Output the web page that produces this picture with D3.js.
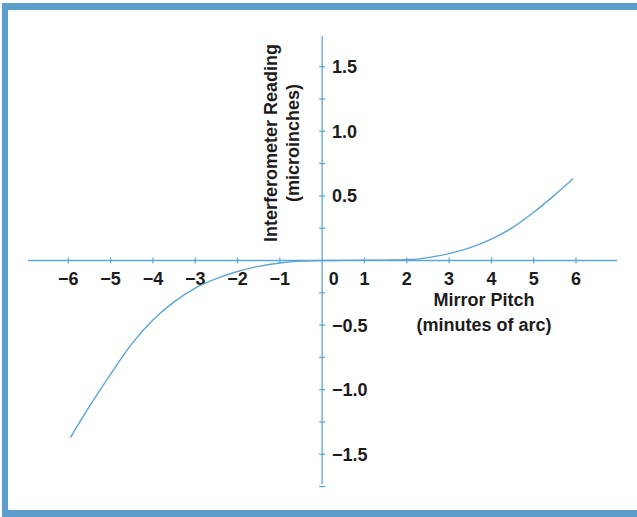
<!DOCTYPE html>
<html><head><meta charset="utf-8">
<script src="https://cdn.jsdelivr.net/npm/d3@7"></script>
<style>html,body{margin:0;padding:0;background:#fff;}svg{display:block;}</style>
</head><body>
<svg id="c" width="637" height="517"></svg>
<script>
// Data
const pitchValues   = [-5.95, -5.5, -5, -4.5, -4, -3.5, -3, -2.5, -2, -1.5, -1, -0.5, 0, 0.5, 1, 1.5, 2, 2.5, 3, 3.5, 4, 4.5, 5, 5.5, 5.93];
const readingValues = [-1.37, -1.13, -0.88, -0.645, -0.46, -0.32, -0.213, -0.14, -0.085, -0.045, -0.019, -0.005, 0, 0.001, 0.002, 0.003, 0.006, 0.022, 0.053, 0.10, 0.165, 0.255, 0.373, 0.508, 0.632];
const xTicks = [-6, -5, -4, -3, -2, -1, 0, 1, 2, 3, 4, 5, 6];
const yTicks = [-1.5, -1.0, -0.5, 0.5, 1.0, 1.5];
const yMinorTicks = [-1.75, -1.5, -1.25, -1.0, -0.75, -0.5, -0.25, 0.25, 0.5, 0.75, 1.0, 1.25, 1.5];
const xTitle = ["Mirror Pitch", "(minutes of arc)"];
const yTitle = ["Interferometer Reading", "(microinches)"];

const svg = d3.select("#c");
const blue = "#5b9ecd";
const lineBlue = "#5aa6d9";
const textCol = "#1c1c1c";
const font = "'Liberation Sans', Arial, Helvetica, sans-serif";

// frame
svg.append("rect").attr("x", 2).attr("y", 3).attr("width", 635).attr("height", 7).attr("fill", blue);
svg.append("rect").attr("x", 2).attr("y", 3).attr("width", 6).attr("height", 514).attr("fill", blue);
svg.append("rect").attr("x", 2).attr("y", 510).attr("width", 635).attr("height", 7).attr("fill", blue);

const x = d3.scaleLinear().domain([-6, 6]).range([68.3, 576.0]);
const y = d3.scaleLinear().domain([-1.5, 1.5]).range([454.3, 66.7]);
const x0 = x(0), y0 = y(0);

// x axis line
svg.append("line").attr("x1", 28).attr("x2", 617).attr("y1", y0).attr("y2", y0)
  .attr("stroke", lineBlue).attr("stroke-width", 1.3);
// y axis line
svg.append("line").attr("x1", x0).attr("x2", x0).attr("y1", 36).attr("y2", 484)
  .attr("stroke", lineBlue).attr("stroke-width", 1.3);

// x ticks
svg.selectAll(".xt").data(xTicks.filter(d => d !== 0)).enter().append("line")
  .attr("x1", d => x(d)).attr("x2", d => x(d)).attr("y1", y0 - 3).attr("y2", y0 + 3)
  .attr("stroke", lineBlue).attr("stroke-width", 1.2);
// y ticks
svg.selectAll(".yt").data(yMinorTicks).enter().append("line")
  .attr("x1", x0 - 3).attr("x2", x0 + 3).attr("y1", d => y(d)).attr("y2", d => y(d))
  .attr("stroke", lineBlue).attr("stroke-width", 1.2);

// x tick labels
svg.selectAll(".xl").data(xTicks).enter().append("text")
  .attr("x", d => d === 0 ? x(d) + 11.5 : x(d))
  .attr("y", 285)
  .attr("text-anchor", "middle")
  .attr("font-family", font).attr("font-weight", "bold").attr("font-size", 18)
  .attr("fill", textCol)
  .text(d => d < 0 ? "\u2212" + Math.abs(d) : String(d));

// y tick labels
svg.selectAll(".yl").data(yTicks).enter().append("text")
  .attr("x", 332)
  .attr("y", d => y(d) + 6.5)
  .attr("font-family", font).attr("font-weight", "bold").attr("font-size", 18)
  .attr("fill", textCol)
  .text(d => (d < 0 ? "\u2212" : "") + Math.abs(d).toFixed(1));

// x title
svg.selectAll(".xtt").data(xTitle).enter().append("text")
  .attr("x", 484).attr("y", (d, i) => 306 + i * 25)
  .attr("text-anchor", "middle")
  .attr("font-family", font).attr("font-weight", "bold").attr("font-size", 18)
  .attr("fill", textCol).text(d => d);

// y title
svg.selectAll(".ytt").data(yTitle).enter().append("text")
  .attr("transform", (d, i) => `translate(${277 + i * 22},143) rotate(-90)`)
  .attr("text-anchor", "middle")
  .attr("font-family", font).attr("font-weight", "bold").attr("font-size", 18)
  .attr("fill", textCol).text(d => d);

// curve
const pts = pitchValues.map((p, i) => [p, readingValues[i]]);
const line = d3.line().x(d => x(d[0])).y(d => y(d[1])).curve(d3.curveMonotoneX);
svg.append("path").attr("d", line(pts)).attr("fill", "none")
  .attr("stroke", lineBlue).attr("stroke-width", 1.4);
</script>
</body></html>
